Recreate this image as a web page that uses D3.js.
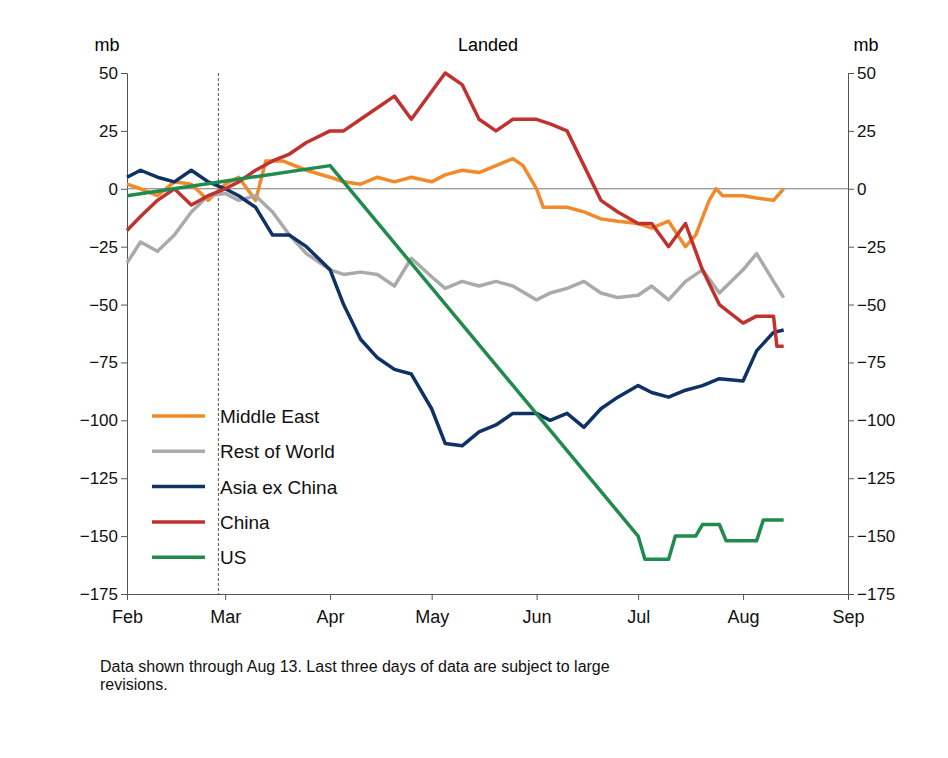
<!DOCTYPE html>
<html>
<head>
<meta charset="UTF-8">
<script src="https://d3js.org/d3.v7.min.js"></script>
<style>
  body { margin: 0; background: #fff; }
  text { font-family: "Liberation Sans", Arial, sans-serif; }
</style>
</head>
<body>
<svg id="chart" width="948" height="758"></svg>
<script>
// Data (mb), 2020
const middleEast = [["02-01",2],["02-05",0],["02-10",-3],["02-15",3],["02-20",2],["02-25",-5],["03-01",2],["03-05",5],["03-10",-5],["03-13",12],["03-18",12],["03-25",8],["04-01",5],["04-05",3],["04-10",2],["04-15",5],["04-20",3],["04-25",5],["05-01",3],["05-05",6],["05-10",8],["05-15",7],["05-20",10],["05-25",13],["05-28",10],["06-01",0],["06-03",-8],["06-10",-8],["06-15",-10],["06-20",-13],["06-25",-14],["07-01",-15],["07-05",-17],["07-10",-14],["07-15",-25],["07-18",-20],["07-22",-5],["07-24",0],["07-26",-3],["08-01",-3],["08-05",-4],["08-10",-5],["08-13",0]];
const restOfWorld = [["02-01",-32],["02-05",-23],["02-10",-27],["02-15",-20],["02-20",-10],["02-25",-3],["03-01",-2],["03-05",-5],["03-10",-3],["03-15",-10],["03-20",-20],["03-25",-28],["04-01",-35],["04-05",-37],["04-10",-36],["04-15",-37],["04-20",-42],["04-25",-30],["05-01",-38],["05-05",-43],["05-10",-40],["05-15",-42],["05-20",-40],["05-25",-42],["06-01",-48],["06-05",-45],["06-10",-43],["06-15",-40],["06-20",-45],["06-25",-47],["07-01",-46],["07-05",-42],["07-10",-48],["07-15",-40],["07-20",-35],["07-25",-45],["08-01",-35],["08-05",-28],["08-10",-40],["08-13",-47]];
const asiaExChina = [["02-01",5],["02-05",8],["02-10",5],["02-15",3],["02-20",8],["02-25",3],["03-01",0],["03-05",-3],["03-10",-8],["03-15",-20],["03-20",-20],["03-25",-25],["04-01",-35],["04-05",-50],["04-10",-65],["04-15",-73],["04-20",-78],["04-25",-80],["05-01",-95],["05-05",-110],["05-10",-111],["05-15",-105],["05-20",-102],["05-25",-97],["06-01",-97],["06-05",-100],["06-10",-97],["06-15",-103],["06-20",-95],["06-25",-90],["07-01",-85],["07-05",-88],["07-10",-90],["07-15",-87],["07-20",-85],["07-25",-82],["08-01",-83],["08-05",-70],["08-10",-62],["08-13",-61]];
const china = [["02-01",-18],["02-05",-12],["02-10",-5],["02-15",0],["02-20",-7],["02-25",-3],["03-01",0],["03-05",3],["03-10",8],["03-15",12],["03-20",15],["03-25",20],["04-01",25],["04-05",25],["04-10",30],["04-15",35],["04-20",40],["04-25",30],["05-01",42],["05-05",50],["05-10",45],["05-15",30],["05-20",25],["05-25",30],["06-01",30],["06-05",28],["06-10",25],["06-15",10],["06-20",-5],["06-25",-10],["07-01",-15],["07-05",-15],["07-10",-25],["07-15",-15],["07-20",-35],["07-25",-50],["08-01",-58],["08-05",-55],["08-10",-55],["08-11",-68],["08-13",-68]];
const us = [["02-01",-3],["04-01",10],["07-01",-150],["07-03",-160],["07-10",-160],["07-12",-150],["07-18",-150],["07-20",-145],["07-25",-145],["07-27",-152],["08-05",-152],["08-07",-143],["08-13",-143]];

const seriesNames = ["Middle East", "Rest of World", "Asia ex China", "China", "US"];
const seriesData = [middleEast, restOfWorld, asiaExChina, china, us];
const colors = ["#f08a2a", "#aaaaaa", "#0d3263", "#c0322f", "#1f8b4c"];
const yTicks = [50, 25, 0, -25, -50, -75, -100, -125, -150, -175];
const monthLabels = ["Feb", "Mar", "Apr", "May", "Jun", "Jul", "Aug", "Sep"];

const parse = s => d3.timeParse("%Y-%m-%d")("2020-" + s);
const svg = d3.select("#chart");
const mLeft = 127, mRight = 848, mTop = 73, mBottom = 594;

const x = d3.scaleTime().domain([parse("02-01"), parse("09-01")]).range([mLeft, mRight]);
const y = d3.scaleLinear().domain([-175, 50]).range([mBottom, mTop]);
const fmt = d => d < 0 ? "\u2212" + Math.abs(d) : d;

// axes
const yl = svg.append("g").attr("transform", `translate(${mLeft},0)`)
  .call(d3.axisLeft(y).tickValues(yTicks).tickFormat(fmt).tickSize(6));
const yr = svg.append("g").attr("transform", `translate(${mRight},0)`)
  .call(d3.axisRight(y).tickValues(yTicks).tickFormat(fmt).tickSize(6));
const xa = svg.append("g").attr("transform", `translate(0,${mBottom})`)
  .call(d3.axisBottom(x).tickValues(monthLabels.map((m, i) => parse(String(i + 2).padStart(2, "0") + "-01")))
    .tickFormat((d, i) => monthLabels[i]).tickSize(6));
[yl, yr, xa].forEach(g => {
  g.selectAll("path, line").attr("stroke", "#555");
  g.selectAll("text").attr("font-size", 17).attr("fill", "#111")
    .style("font-family", "Liberation Sans, Arial, sans-serif");
});
xa.selectAll("text").attr("dy", "1.1em").attr("font-size", 18);

// zero line + dashed marker
svg.append("line").attr("x1", mLeft).attr("x2", mRight).attr("y1", y(0)).attr("y2", y(0))
  .attr("stroke", "#777").attr("stroke-width", 1);
svg.append("line").attr("x1", x(parse("02-28"))).attr("x2", x(parse("02-28")))
  .attr("y1", mTop).attr("y2", mBottom).attr("stroke", "#555").attr("stroke-dasharray", "3,2");

// series
const line = d3.line().x(d => x(parse(d[0]))).y(d => y(d[1]));
seriesData.forEach((s, i) => {
  svg.append("path").datum(s).attr("d", line).attr("fill", "none")
    .attr("stroke", colors[i]).attr("stroke-width", 3.5).attr("stroke-linejoin", "round");
});

// legend
seriesNames.forEach((n, i) => {
  const ly = 416 + i * 35.3;
  svg.append("line").attr("x1", 152).attr("x2", 205).attr("y1", ly).attr("y2", ly)
    .attr("stroke", colors[i]).attr("stroke-width", 3.5);
  svg.append("text").attr("x", 220).attr("y", ly + 7).attr("font-size", 19).attr("fill", "#111").text(n);
});

// titles
svg.append("text").attr("x", 107).attr("y", 51).attr("text-anchor", "middle").attr("font-size", 18).text("mb");
svg.append("text").attr("x", 866).attr("y", 51).attr("text-anchor", "middle").attr("font-size", 18).text("mb");
svg.append("text").attr("x", 488).attr("y", 51).attr("text-anchor", "middle").attr("font-size", 18).text("Landed");

// caption
svg.append("text").attr("x", 100).attr("y", 672).attr("font-size", 16).attr("fill", "#111")
  .text("Data shown through Aug 13. Last three days of data are subject to large");
svg.append("text").attr("x", 100).attr("y", 690).attr("font-size", 16).attr("fill", "#111")
  .text("revisions.");
</script>
</body>
</html>
